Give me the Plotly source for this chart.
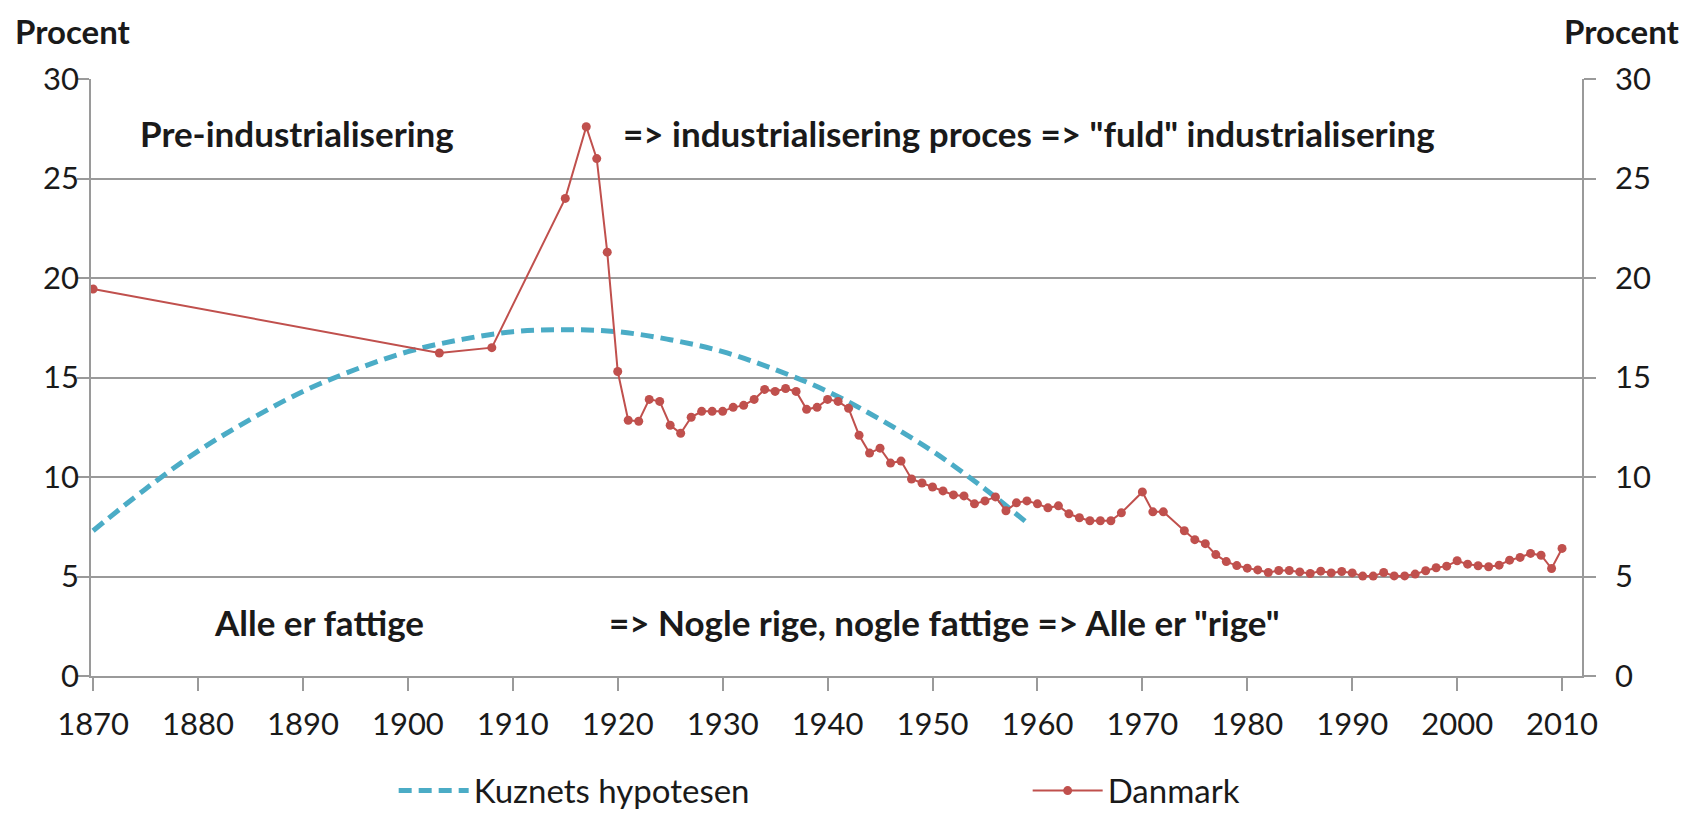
import plotly.graph_objects as go

# Kuznets hypothesis curve
kuznets_years = [1870, 1875, 1880, 1885, 1890, 1895, 1900, 1905, 1910, 1915,
                 1920, 1925, 1930, 1935, 1940, 1945, 1950, 1955, 1959]
kuznets_vals = [7.3, 9.4, 11.3, 12.9, 14.3, 15.4, 16.3, 16.9, 17.3, 17.4,
                17.3, 16.9, 16.3, 15.4, 14.3, 12.9, 11.3, 9.4, 7.7]

# Danmark top-income share
dk_years = [1870, 1903, 1908, 1915,
            1917, 1918, 1919, 1920, 1921, 1922, 1923, 1924, 1925, 1926,
            1927, 1928, 1929, 1930, 1931, 1932, 1933, 1934, 1935, 1936,
            1937, 1938, 1939, 1940, 1941, 1942, 1943, 1944, 1945, 1946,
            1947, 1948, 1949, 1950, 1951, 1952, 1953, 1954, 1955, 1956,
            1957, 1958, 1959, 1960, 1961, 1962, 1963, 1964, 1965, 1966,
            1967, 1968, 1970, 1971, 1972,
            1974, 1975, 1976, 1977, 1978, 1979, 1980, 1981, 1982, 1983,
            1984, 1985, 1986, 1987, 1988, 1989, 1990, 1991, 1992, 1993,
            1994, 1995, 1996, 1997, 1998, 1999, 2000, 2001, 2002, 2003,
            2004, 2005, 2006, 2007, 2008, 2009, 2010]
dk_vals = [19.45, 16.23, 16.5, 24.0,
           27.6, 26.0, 21.3, 15.3, 12.85, 12.8, 13.9, 13.8, 12.6, 12.2,
           13.0, 13.3, 13.3, 13.3, 13.5, 13.6, 13.9, 14.4, 14.3, 14.45,
           14.3, 13.4, 13.5, 13.9, 13.8, 13.45, 12.1, 11.2, 11.45, 10.7,
           10.8, 9.9, 9.7, 9.5, 9.3, 9.1, 9.05, 8.65, 8.8, 9.0,
           8.3, 8.7, 8.8, 8.65, 8.45, 8.55, 8.15, 7.95, 7.8, 7.8,
           7.8, 8.2, 9.25, 8.25, 8.25,
           7.3, 6.85, 6.65, 6.1, 5.75, 5.55, 5.42, 5.33, 5.2, 5.3,
           5.3, 5.23, 5.15, 5.27, 5.18, 5.25, 5.18, 5.02, 5.02, 5.2,
           5.03, 5.03, 5.12, 5.29, 5.44, 5.52, 5.79, 5.62, 5.54, 5.49,
           5.57, 5.82, 5.96, 6.16, 6.07, 5.4, 6.41]

x_ticks = [1870, 1880, 1890, 1900, 1910, 1920, 1930, 1940, 1950, 1960,
           1970, 1980, 1990, 2000, 2010]
y_ticks = [0, 5, 10, 15, 20, 25, 30]

annotations_top = ["Pre-industrialisering",
                   "=> industrialisering proces => \"fuld\" industrialisering"]
annotations_bottom = ["Alle er fattige",
                      "=> Nogle rige, nogle fattige => Alle er \"rige\""]

FONT = "Lato"
GRID = "#9a9a9a"
TXT = "#1a1a1a"

fig = go.Figure()
fig.add_trace(go.Scatter(
    x=kuznets_years, y=kuznets_vals, mode="lines", name="Kuznets hypotesen",
    line=dict(color="#4BACC6", width=5, dash="13px,7px", shape="spline"),
))
fig.add_trace(go.Scatter(
    x=dk_years, y=dk_vals, mode="lines+markers", name="Danmark",
    line=dict(color="#C0504D", width=2),
    marker=dict(color="#C0504D", size=9, symbol="circle"),
))
# invisible trace to activate right axis
fig.add_trace(go.Scatter(x=[1870], y=[0], yaxis="y2", mode="markers",
                         marker=dict(opacity=0), showlegend=False, hoverinfo="skip"))

# The page body adds an 8px margin, so the figure is 8px smaller than the window.
fig.update_layout(
    width=1680, height=805,
    paper_bgcolor="white", plot_bgcolor="white",
    margin=dict(l=83, r=106, t=71, b=137, autoexpand=False),
    font=dict(family=FONT, color=TXT, size=30),
    xaxis=dict(
        range=[1869.8, 2011.9], tickvals=x_ticks, ticktext=[str(t) for t in x_ticks],
        showgrid=False, showline=True, linecolor=GRID, linewidth=1.5,
        ticks="outside", ticklen=13, tickcolor=GRID, tickwidth=1.5,
        tickfont=dict(size=31, family=FONT, color=TXT), zeroline=False,
        ticklabelstandoff=7,
    ),
    yaxis=dict(
        range=[0, 30], tickvals=y_ticks, showgrid=True, gridcolor=GRID, gridwidth=1.5,
        showline=True, linecolor=GRID, linewidth=1.5,
        ticks="outside", ticklen=12, tickcolor=GRID, tickwidth=1.5,
        tickfont=dict(size=31, family=FONT, color=TXT), zeroline=False,
        ticklabelstandoff=-8,
    ),
    yaxis2=dict(
        range=[0, 30], tickvals=y_ticks, overlaying="y", side="right",
        showgrid=False, showline=True, linecolor=GRID, linewidth=1.5,
        ticks="outside", ticklen=12, tickcolor=GRID, tickwidth=1.5,
        tickfont=dict(size=31, family=FONT, color=TXT), zeroline=False,
        ticklabelstandoff=13,
    ),
    legend=dict(
        orientation="h", x=0.203, xanchor="left", y=-0.192, yanchor="middle",
        font=dict(size=33, family=FONT, color=TXT), entrywidth=549,
        itemwidth=70, bgcolor="rgba(0,0,0,0)",
    ),
    showlegend=True,
)

fig.add_annotation(text="<b>Procent</b>", xref="paper", yref="paper",
                   x=0, y=1, xshift=-78, yshift=48, xanchor="left", yanchor="middle",
                   showarrow=False, font=dict(size=33, family=FONT, color=TXT))
fig.add_annotation(text="<b>Procent</b>", xref="paper", yref="paper",
                   x=1, y=1, xshift=100, yshift=48, xanchor="right", yanchor="middle",
                   showarrow=False, font=dict(size=33, family=FONT, color=TXT))

ann_x = [1874.25, 1920.35]
for t, xv in zip(annotations_top, ann_x):
    fig.add_annotation(text="<b>" + t + "</b>", x=xv, y=27.3, xanchor="left",
                       yanchor="middle", showarrow=False,
                       font=dict(size=35, family=FONT, color=TXT))
ann_xb = [1881.35, 1918.95]
for t, xv in zip(annotations_bottom, ann_xb):
    fig.add_annotation(text="<b>" + t + "</b>", x=xv, y=2.7, xanchor="left",
                       yanchor="middle", showarrow=False,
                       font=dict(size=35, family=FONT, color=TXT))

fig.write_html("out.html")
